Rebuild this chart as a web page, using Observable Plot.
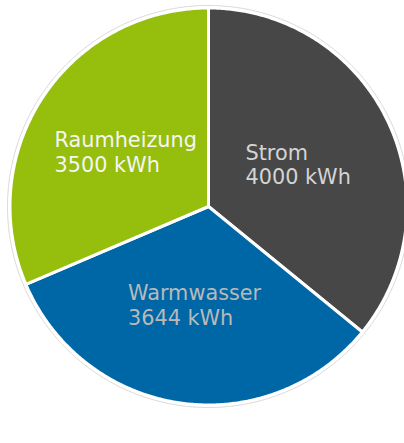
<!DOCTYPE html>
<html><head><meta charset="utf-8">
<script src="https://cdn.jsdelivr.net/npm/d3@7"></script>
<script src="https://cdn.jsdelivr.net/npm/@observablehq/plot@0.6"></script>
<style>html,body{margin:0;padding:0;background:#fff;overflow:hidden}</style>
</head><body><div id="chart"></div>
<script>
// Data
const categories = ["Strom", "Warmwasser", "Raumheizung"];
const values = [4000, 3644, 3500];
const unit = "kWh";
const colors = ["#474747", "#0067a7", "#96be0d"];
const labelColors = ["#d4d4d4", "#b9b9b9", "#f5f5f5"];

// Layout
const W = 404, H = 443, CX = 208, CY = 206, R = 198.5;
const FONT_SIZE = 20.8, FONT = "DejaVu Sans";

const rows = categories.map((c, i) => ({name: c, value: values[i], color: colors[i], labelColor: labelColors[i]}));
const arcs = d3.pie().sort(null).value(d => d.value)(rows);

// polygon points for each slice (angles clockwise from 12 o'clock)
const slicePts = [];
arcs.forEach(a => {
  slicePts.push({name: a.data.name, color: a.data.color, x: 0, y: 0});
  const n = Math.max(2, Math.ceil((a.endAngle - a.startAngle) / (Math.PI / 360)));
  for (let k = 0; k <= n; k++) {
    const t = a.startAngle + (a.endAngle - a.startAngle) * k / n;
    slicePts.push({name: a.data.name, color: a.data.color, x: Math.sin(t), y: Math.cos(t)});
  }
});

const ringR = (R + 2.5) / R;
const ring = d3.range(0, 721).map(k => {
  const t = k / 720 * 2 * Math.PI;
  return {x: ringR * Math.sin(t), y: ringR * Math.cos(t)};
});

// label measurement
const ctx = document.createElement("canvas").getContext("2d");
ctx.font = `${FONT_SIZE}px "${FONT}"`;
const labels = arcs.map(a => {
  const mid = (a.startAngle + a.endAngle) / 2;
  const lines = [a.data.name, `${a.data.value} ${unit}`];
  const w = d3.max(lines, l => ctx.measureText(l).width);
  return {
    text: lines.join("\n"),
    x: 0.5 * Math.sin(mid) - (w / 2) / R,
    y: 0.5 * Math.cos(mid),
    fill: a.data.labelColor
  };
});

const chart = Plot.plot({
  width: W, height: H,
  margin: 0,
  style: {background: "#fff"},
  x: {domain: [-CX / R, (W - CX) / R], range: [0, W], axis: null},
  y: {domain: [-(H - CY) / R, CY / R], range: [H, 0], axis: null},
  color: {type: "identity"},
  marks: [
    Plot.line(ring, {x: "x", y: "y", stroke: "#d9d9d9", strokeWidth: 1, curve: "linear-closed"}),
    Plot.line(slicePts, {x: "x", y: "y", z: "name", fill: "color", stroke: "#fff", strokeWidth: 3, strokeLinejoin: "round", curve: "linear-closed"}),
    Plot.text(labels, {x: "x", y: "y", text: "text", fill: "fill", textAnchor: "start", lineAnchor: "middle", lineHeight: 1.16, fontSize: FONT_SIZE, fontFamily: FONT})
  ]
});
document.getElementById("chart").appendChild(chart);
</script>
</body></html>
